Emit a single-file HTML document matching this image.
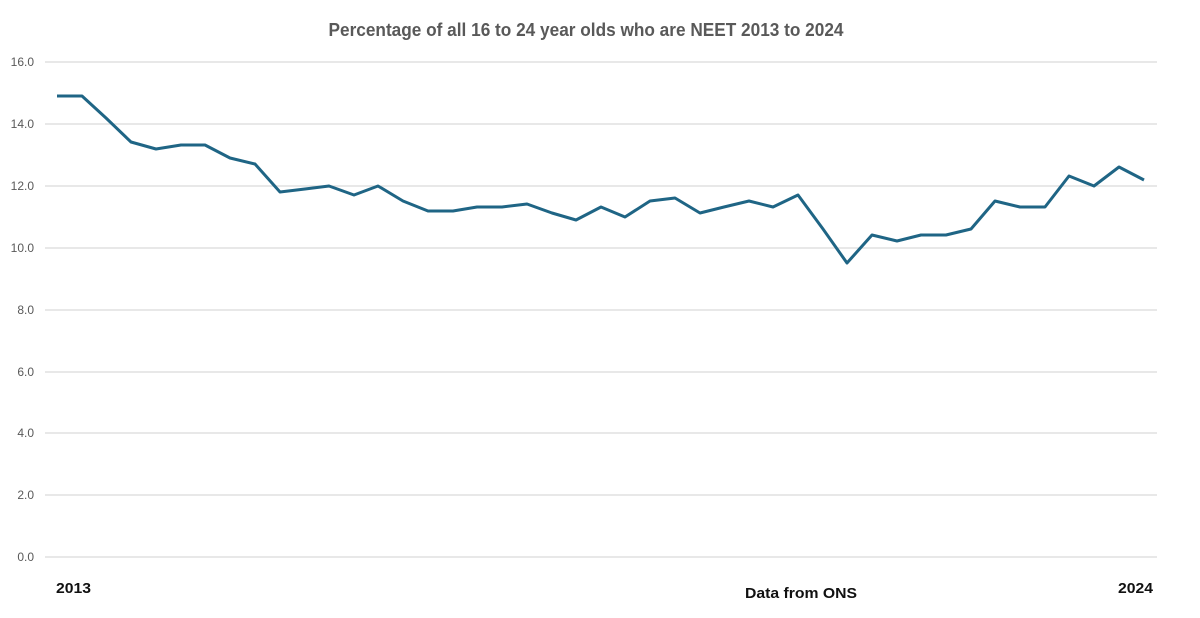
<!DOCTYPE html>
<html><head><meta charset="utf-8"><style>
html,body{margin:0;padding:0;background:#fff;width:1200px;height:618px;overflow:hidden}
svg{display:block}
</style></head><body>
<svg width="1200" height="618" viewBox="0 0 1200 618" xmlns="http://www.w3.org/2000/svg">
<rect width="1200" height="618" fill="#fff"/>
<text x="586" y="36" text-anchor="middle" font-family="Liberation Sans Narrow, Liberation Sans, sans-serif" font-size="18" font-weight="bold" fill="#595959" textLength="515" lengthAdjust="spacingAndGlyphs">Percentage of all 16 to 24 year olds who are NEET 2013 to 2024</text>
<g stroke="#d9d9d9" stroke-width="1.3">
<line x1="45" x2="1157" y1="62" y2="62"/>
<line x1="45" x2="1157" y1="124" y2="124"/>
<line x1="45" x2="1157" y1="186" y2="186"/>
<line x1="45" x2="1157" y1="248" y2="248"/>
<line x1="45" x2="1157" y1="310" y2="310"/>
<line x1="45" x2="1157" y1="372" y2="372"/>
<line x1="45" x2="1157" y1="433" y2="433"/>
<line x1="45" x2="1157" y1="495" y2="495"/>
<line x1="45" x2="1157" y1="557" y2="557"/>
</g>
<g font-family="Liberation Sans, sans-serif" font-size="12" fill="#595959" text-anchor="end">
<text x="34" y="66">16.0</text>
<text x="34" y="128">14.0</text>
<text x="34" y="190">12.0</text>
<text x="34" y="252">10.0</text>
<text x="34" y="314">8.0</text>
<text x="34" y="376">6.0</text>
<text x="34" y="437">4.0</text>
<text x="34" y="499">2.0</text>
<text x="34" y="561">0.0</text>
</g>
<g font-family="Liberation Sans Narrow, Liberation Sans, sans-serif" font-size="15" font-weight="bold" fill="#111">
<text x="56" y="593" textLength="35" lengthAdjust="spacingAndGlyphs">2013</text>
<text x="745" y="598" textLength="112" lengthAdjust="spacingAndGlyphs">Data from ONS</text>
<text x="1118" y="593" textLength="35" lengthAdjust="spacingAndGlyphs">2024</text>
</g>
<polyline fill="none" stroke="#1f6585" stroke-width="3" stroke-linejoin="round" points="
57,96 82,96 106,118 131,142 156,149 181,145 205,145 230,158 255,164 280,192 305,189 329,186 354,195 378,186 403,201 428,211 453,211 477,207 502,207 527,204 552,213 576,220 601,207 625,217 650,201 675,198 700,213 724,207 749,201 773,207 798,195 823,229 847,263 872,235 897,241 921,235 946,235 971,229 995,201 1020,207 1045,207 1069,176 1094,186 1119,167 1144,180"/>
</svg>
</body></html>
